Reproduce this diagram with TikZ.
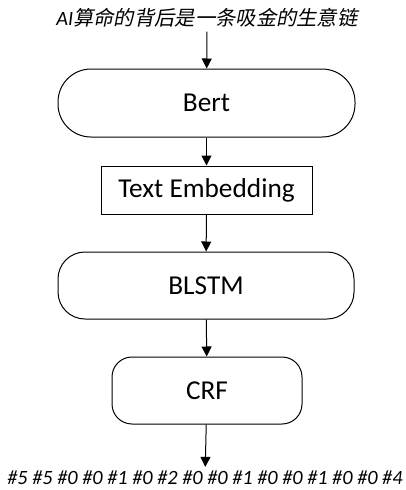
\documentclass[tikz,border=0pt]{standalone}
\usepackage{fontspec}
\setmainfont{Carlito}
\newfontfamily\cjk[FakeSlant=0.2]{Noto Sans CJK SC}
\usetikzlibrary{arrows.meta}
\tikzset{
  box/.style={draw, line width=1pt, align=center, font=\fontsize{27.3}{32}\selectfont, inner sep=0pt},
  arr/.style={line width=1pt, -{Triangle[width=10pt,length=10pt]}},
  lbl/.style={inner sep=0pt, font=\fontsize{20.3}{24}\selectfont\itshape}
}
\begin{document}
\begin{tikzpicture}[x=1pt,y=-1pt]
\useasboundingbox (0,0) rectangle (406,490);
\node[lbl] (title) at (207,18) {AI{\cjk 算命的背后是一条吸金的生意链}};
\node[box, rounded corners=33pt, minimum width=297pt, minimum height=68pt] (bert) at (206.5,103) {Bert};
\node[box, minimum width=211pt, minimum height=48pt] (te) at (206.5,190) {Text Embedding};
\node[box, rounded corners=27pt, minimum width=296pt, minimum height=67pt] (blstm) at (206,285.5) {BLSTM};
\node[box, rounded corners=20pt, minimum width=190pt, minimum height=67pt] (crf) at (207,390.5) {CRF};
\node[lbl] (out) at (205,478) {\#5 \#5 \#0 \#0 \#1 \#0 \#2 \#0 \#0 \#1 \#0 \#0 \#1 \#0 \#0 \#4};
\draw[arr, shorten <=4pt] (title) -- (bert);
\draw[arr] (bert) -- (te);
\draw[arr] (te) -- (blstm);
\draw[arr] (blstm) -- (crf);
\draw[arr, shorten >=4pt] (crf) -- (out);
\end{tikzpicture}
\end{document}
